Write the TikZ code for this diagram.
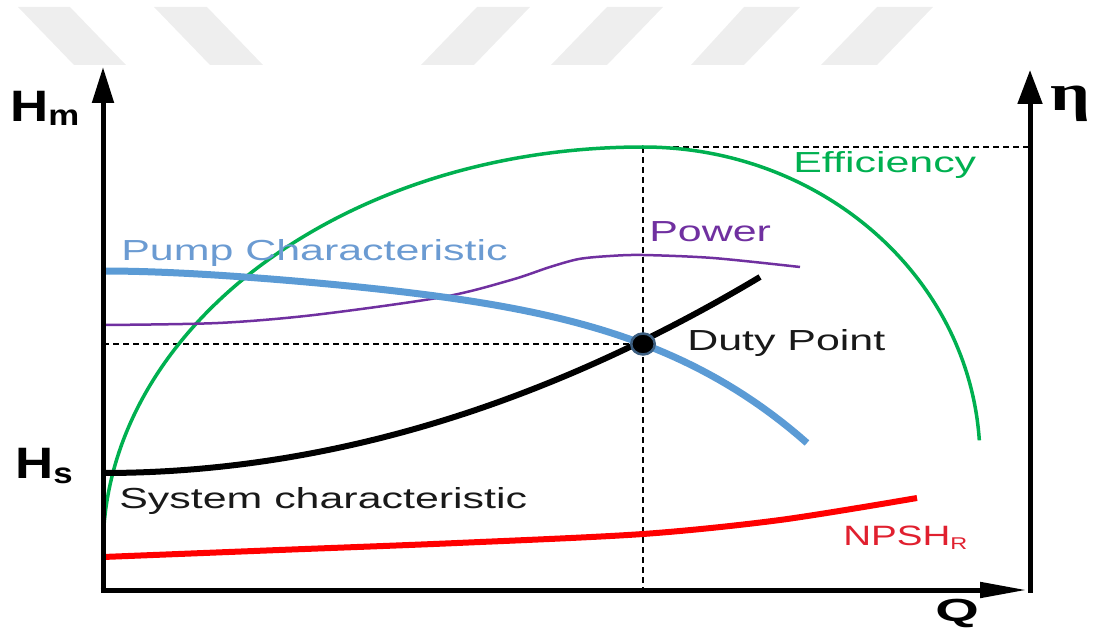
\documentclass[tikz,border=0pt]{standalone}
\usepackage{fontspec}
\setmainfont{Liberation Sans}
\newfontfamily\serifb{Liberation Serif}
\usetikzlibrary{arrows.meta}
\definecolor{pumpblue}{HTML}{5B9BD5}
\definecolor{pumptext}{HTML}{6B9BD2}
\definecolor{effgreen}{HTML}{00B050}
\definecolor{powpurple}{HTML}{7030A0}
\definecolor{npshred}{HTML}{FF0000}
\definecolor{npshtext}{HTML}{E0202F}
\definecolor{wmgray}{HTML}{EEEEEE}
\definecolor{dotring}{HTML}{3C5E80}
\tikzset{
  lbl/.style={font=\fontsize{29}{29}\selectfont, xscale=1.48, inner sep=0pt, anchor=base west},
  axlbl/.style={font=\bfseries\fontsize{44}{44}\selectfont, xscale=1.2, inner sep=0pt, anchor=base west},
  axisline/.style={line width=5pt},
  dashline/.style={line width=1.4pt, dash pattern=on 6pt off 4pt},
  stripe/.style={fill=wmgray, draw=none}
}
\begin{document}
\begin{tikzpicture}[x=1pt,y=-1pt]
\useasboundingbox (0,0) rectangle (1097,636);
% watermark stripes
\fill[stripe] (18,7) -- (70,7) -- (126,65) -- (74,65) -- cycle;
\fill[stripe] (154,7) -- (207,7) -- (263,65) -- (210,65) -- cycle;
\fill[stripe] (477,7) -- (530,7) -- (474,65) -- (421,65) -- cycle;
\fill[stripe] (607,7) -- (663,7) -- (607,65) -- (551,65) -- cycle;
\fill[stripe] (744,7) -- (800,7) -- (744,65) -- (691,65) -- cycle;
\fill[stripe] (877,7) -- (933,7) -- (877,65) -- (821,65) -- cycle;

% coordinates
\coordinate (ytop) at (103,67);
\coordinate (xend) at (1027,590);
\coordinate (rbot) at (1030,592.5);
\coordinate (rtop) at (1030,70);
\coordinate (peak) at (643,147);
\coordinate (qduty) at (643,590);
\coordinate (hduty) at (103,344);
\coordinate (etaref) at (1030,147);
\coordinate (dutyc) at (643,344);

% dashed guides
\draw[dashline] (hduty) -- (dutyc);
\draw[dashline] (peak) -- (qduty);
\draw[dashline] (peak) -- (etaref);

% NPSH_R
\draw[npshred, line width=6pt] plot[smooth] coordinates {(103,557) (279,550) (457,543) (643,534) (780,520) (917,498)};
% Efficiency
\draw[effgreen, line width=3.5pt] (103,550) arc[start angle=180, end angle=270, x radius=540, y radius=403]
  arc[start angle=270, end angle=356.4, x radius=337, y radius=313];
% Power
\draw[powpurple, line width=2.5pt] plot[smooth] coordinates {(103,325) (218,323) (314,315) (443,297) (511,280) (550,267) (579,259) (610,256) (643,255) (713,258) (800,267)};
% System characteristic (parabola)
\draw[black, line width=6pt] (103,473) .. controls (322,473) and (541,407.7) .. (760,277);
% Pump characteristic
\draw[pumpblue, line width=7pt] plot[domain=0:7.04, samples=80, variable=\t] ({103+100*\t},{271+4.151*\t*\t-0.9915*\t*\t*\t+0.1271*\t*\t*\t*\t});

% duty point
\node[circle, fill=black, draw=dotring, line width=2.5pt, minimum size=21pt, inner sep=0pt, xscale=1.12] (duty) at (dutyc) {};

% axes
\draw[axisline, -{Triangle[length=36pt,width=21pt]}] (103,592.5) -- (ytop);
\draw[axisline, -{Triangle[length=47pt,width=15pt]}] (100.5,590) -- (xend);
\draw[axisline, -{Triangle[length=34pt,width=24pt]}] (rbot) -- (rtop);

% labels
\node[lbl, text=pumptext] (lpump) at (121,261) {Pump Characteristic};
\node[lbl, text=powpurple] (lpower) at (649,242) {Power};
\node[lbl, text=effgreen] (leff) at (793,173) {Efficiency};
\node[lbl, text=black!90] (lduty) at (687,350) {Duty Point};
\node[lbl, text=black!90] (lsys) at (119,508) {System characteristic};
\node[lbl, text=npshtext, font=\fontsize{28}{28}\selectfont, xscale=0.93] (lnpsh) at (843,545) {NPSH\raisebox{-4pt}{\fontsize{17}{17}\selectfont R}};
\node[axlbl] (lhm) at (10,122) {H\raisebox{-4pt}{\fontsize{29}{29}\selectfont m}};
\node[axlbl] (lhs) at (15,478) {H\raisebox{-5pt}{\fontsize{29}{29}\selectfont s}};
\node[inner sep=0pt, anchor=base west, xscale=1.35, font=\serifb\bfseries\fontsize{52}{52}\selectfont] (leta) at (1050,111) {η};
\node[inner sep=0pt, anchor=base west, xscale=1.75, font=\bfseries\fontsize{32}{32}\selectfont] (lq) at (935,621) {Q};
\end{tikzpicture}
\end{document}
